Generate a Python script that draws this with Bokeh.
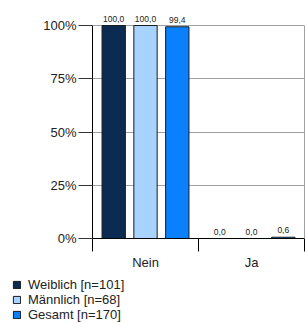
from bokeh.plotting import figure
from bokeh.models import (ColumnDataSource, FixedTicker, Legend, LegendItem, Range1d,
                          LinearAxis)
from bokeh.layouts import column
from bokeh.core.properties import value
from bokeh.embed import file_html
from bokeh.resources import INLINE

categories = ["Nein", "Ja"]
series_names = ["Weiblich [n=101]", "Männlich [n=68]", "Gesamt [n=170]"]
weiblich = [100.0, 0.0]
maennlich = [100.0, 0.0]
gesamt = [99.4, 0.6]
series_values = [weiblich, maennlich, gesamt]
colors = ["#0b2b52", "#a9d3ff", "#0a80ff"]
y_ticks = [0, 25, 50, 75, 100]
y_tick_labels = ["0%", "25%", "50%", "75%", "100%"]

FONT = "Liberation Sans"

# layout constants (pixels)
FRAME_H = 238
TOP_PAD = 25
y_end = 100 * FRAME_H / (FRAME_H - TOP_PAD)

p = figure(width=305, height=272, output_backend="svg", toolbar_location=None,
           x_range=Range1d(0, len(categories)), y_range=Range1d(0, y_end),
           min_border_left=92, min_border_right=1, min_border_top=0, min_border_bottom=34)
p.frame_align = False
p.outline_line_color = None
p.background_fill_color = "white"
p.border_fill_color = "white"

offsets = [-0.3, 0.0, 0.3]
bar_w = 0.22
for name, vals, col, off in zip(series_names, series_values, colors, offsets):
    xs = [i + 0.5 + off for i in range(len(categories))]
    src = ColumnDataSource(dict(x=xs, top=vals,
                                lab=[f"{v:.1f}".replace(".", ",") for v in vals]))
    p.vbar(x="x", top="top", bottom=0, width=bar_w, source=src,
           fill_color=col, line_color="#1a1a1a", line_width=1)
    p.text(x="x", y="top", text="lab", source=src, text_font=value(FONT),
           text_font_size="8.5px", text_align="center", text_baseline="bottom",
           y_offset=-4, text_color="#222222")

# grid
p.xgrid.visible = False
p.ygrid.ticker = FixedTicker(ticks=y_ticks)
p.ygrid.grid_line_color = "#a0a0a0"
p.ygrid.grid_line_width = 1

ya = p.yaxis[0]
ya.bounds = (0, 100)
ya.ticker = FixedTicker(ticks=y_ticks)
ya.major_label_overrides = {t: l for t, l in zip(y_ticks, y_tick_labels)}
ya.major_tick_out = 14
ya.major_tick_in = 0
ya.minor_tick_out = 0
ya.minor_tick_in = 0
ya.major_tick_line_color = "#333333"
ya.axis_line_color = "black"
ya.major_label_standoff = 2
ya.major_label_text_font = FONT
ya.major_label_text_font_size = "13px"
ya.major_label_text_color = "#222222"

ra = LinearAxis(bounds=(0, 100), ticker=FixedTicker(ticks=[]),
                axis_line_color="#a0a0a0", major_tick_out=0, major_tick_in=0,
                minor_tick_out=0, minor_tick_in=0, major_label_standoff=0,
                major_label_text_font_size="0px")
p.add_layout(ra, "right")

xa = p.xaxis[0]
cat_centers = [i + 0.5 for i in range(len(categories))]
xa.ticker = FixedTicker(ticks=cat_centers, minor_ticks=list(range(len(categories) + 1)))
xa.major_label_overrides = {c: l for c, l in zip(cat_centers, categories)}
xa.major_tick_out = 0
xa.major_tick_in = 0
xa.minor_tick_out = 13
xa.minor_tick_in = 0
xa.minor_tick_line_color = "black"
xa.axis_line_color = "black"
xa.major_label_standoff = 3
xa.major_label_text_font = FONT
xa.major_label_text_font_size = "13px"
xa.major_label_text_color = "#222222"

# legend figure
lf = figure(width=305, height=50, output_backend="svg", toolbar_location=None,
            x_range=Range1d(0, 1), y_range=Range1d(0, 1),
            min_border_left=0, min_border_right=0, min_border_top=0, min_border_bottom=0)
lf.frame_align = False
lf.axis.visible = False
lf.grid.visible = False
lf.outline_line_color = None
items = []
for name, col in zip(series_names, colors):
    r = lf.vbar(x=[-5], top=[-5], bottom=[-6], width=0.1, fill_color=col,
                line_color="#1a1a1a", line_width=1)
    items.append(LegendItem(label=name, renderers=[r]))
legend = Legend(items=items, location=(12, 0), orientation="vertical",
                padding=0, margin=0, spacing=0, label_height=14, glyph_height=9,
                glyph_width=9, label_standoff=7, label_text_font=FONT,
                label_text_font_size="13px", label_text_color="#222222",
                border_line_color=None, background_fill_alpha=0)
lf.add_layout(legend, "center")

layout = column(p, lf, spacing=0)
open("out.html", "w").write(file_html(layout, INLINE))
